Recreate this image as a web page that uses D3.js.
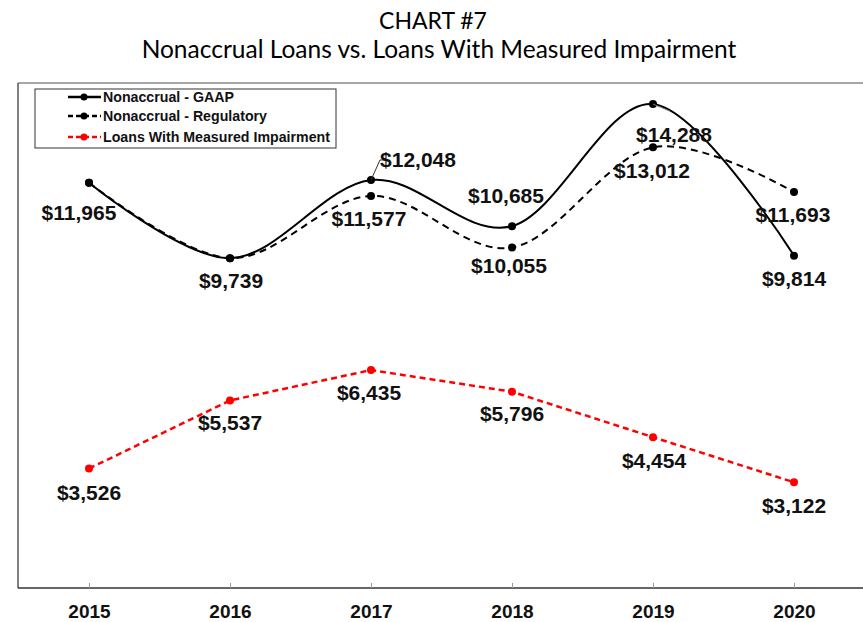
<!DOCTYPE html>
<html>
<head>
<meta charset="utf-8">
<script src="https://cdn.jsdelivr.net/npm/d3@7"></script>
<style>
  body { margin: 0; background: #fff; }
  svg { display: block; }
</style>
</head>
<body>
<svg id="chart"></svg>
<script>
// Chart #7 - Nonaccrual loans vs. loans with measured impairment ($ millions)

const years = [2015, 2016, 2017, 2018, 2019, 2020]
const gaap = [11965, 9739, 12048, 10685, 14288, 9814]
const regulatory = [11965, 9739, 11577, 10055, 13012, 11693]
const impairment = [3526, 5537, 6435, 5796, 4454, 3122]

const seriesNames = ["Nonaccrual - GAAP", "Nonaccrual - Regulatory", "Loans With Measured Impairment"]

// label offsets from each point (dx, dy of text centre), null = no label
const gaapLabelPos = [[-10, 30], [1, 22], [47, -21], [-6, -31], [21, 30], [0, 23]]
const regLabelPos = [null, null, [-2, 23], [-3, 18], [-1, 23], [-1, 22]]
const impLabelPos = [[0, 24], [0, 22], [-2, 22], [0, 22], [1, 23], [0, 23]]

const width = 863
const height = 622
const margin = { top: 80, right: 0, bottom: 34, left: 18 }

const svg = d3.select("#chart")
    .attr("width", width)
    .attr("height", height)

const x = d3.scalePoint()
    .domain(years)
    .range([89, 794])

const y = d3.scaleLinear()
    .domain([0, 15000])
    .range([height - margin.bottom, margin.top])

const fmt = d => "$" + d3.format(",")(d)

// titles
svg.append("text")
    .attr("x", 433).attr("y", 29)
    .attr("text-anchor", "middle")
    .style("font-family", "Lato, 'Open Sans', sans-serif")
    .style("font-size", "23px")
    .text("CHART #7")

svg.append("text")
    .attr("x", 439).attr("y", 58)
    .attr("text-anchor", "middle")
    .style("font-family", "Lato, 'Open Sans', sans-serif")
    .style("font-size", "24.5px")
    .text("Nonaccrual Loans vs. Loans With Measured Impairment")

// plot frame
const yBottom = y(0)
svg.append("line")
    .attr("x1", margin.left).attr("x2", width)
    .attr("y1", 83).attr("y2", 83)
    .attr("stroke", "#8a8a8a").attr("stroke-width", 1.5)
svg.append("line")
    .attr("x1", margin.left).attr("x2", margin.left)
    .attr("y1", 83).attr("y2", yBottom)
    .attr("stroke", "#555").attr("stroke-width", 1.5)

// x axis
const xAxis = svg.append("g")
    .attr("transform", `translate(0,${yBottom})`)
    .call(d3.axisBottom(x).tickSizeInner(-5).tickSizeOuter(0).tickPadding(17))
xAxis.select(".domain")
    .attr("d", `M${margin.left},0H${width}`)
    .attr("stroke", "#333").attr("stroke-width", 1.5)
xAxis.selectAll(".tick line").attr("stroke", "#999")
xAxis.selectAll("text")
    .attr("fill", "#111")
    .style("font-family", "'Liberation Sans', Arial, sans-serif")
    .style("font-weight", "bold")
    .style("font-size", "19px")

// lines
const smooth = d3.line()
    .x((d, i) => x(years[i]))
    .y(d => y(d))
    .curve(d3.curveCardinal.tension(0))

const straight = d3.line()
    .x((d, i) => x(years[i]))
    .y(d => y(d))

svg.append("path")
    .attr("d", smooth(regulatory))
    .attr("fill", "none")
    .attr("stroke", "#000").attr("stroke-width", 2)
    .attr("stroke-dasharray", "7,5")

svg.append("path")
    .attr("d", smooth(gaap))
    .attr("fill", "none")
    .attr("stroke", "#000").attr("stroke-width", 2)

svg.append("path")
    .attr("d", straight(impairment))
    .attr("fill", "none")
    .attr("stroke", "#f00").attr("stroke-width", 2.5)
    .attr("stroke-dasharray", "6,4")

// markers
function drawMarkers(values, color) {
    svg.append("g").selectAll("circle")
        .data(values)
        .join("circle")
        .attr("cx", (d, i) => x(years[i]))
        .attr("cy", d => y(d))
        .attr("r", 4)
        .attr("fill", color)
}
drawMarkers(regulatory, "#000")
drawMarkers(gaap, "#000")
drawMarkers(impairment, "#f00")

// leader lines
svg.append("path")
    .attr("d", `M${x(2017)},${y(gaap[2])}L${x(2017) + 9},${y(gaap[2]) - 20}H${x(2017) + 14}`)
    .attr("fill", "none").attr("stroke", "#333").attr("stroke-width", 1)
svg.append("line")
    .attr("x1", x(2019)).attr("y1", y(gaap[4]))
    .attr("x2", x(2019) + 17).attr("y2", y(gaap[4]) + 7)
    .attr("stroke", "#777").attr("stroke-width", 1)

// value labels
function drawLabels(values, pos) {
    svg.append("g").selectAll("text")
        .data(values.map((v, i) => ({ v, i, p: pos[i] })).filter(d => d.p))
        .join("text")
        .attr("x", d => x(years[d.i]) + d.p[0])
        .attr("y", d => y(d.v) + d.p[1])
        .attr("dy", "0.36em")
        .attr("text-anchor", "middle")
        .attr("fill", "#111")
        .style("font-family", "'Liberation Sans', Arial, sans-serif")
        .style("font-weight", "bold")
        .style("font-size", "21px")
        .text(d => fmt(d.v))
}
drawLabels(gaap, gaapLabelPos)
drawLabels(regulatory, regLabelPos)
drawLabels(impairment, impLabelPos)

// legend
const legend = svg.append("g").attr("transform", "translate(35,89)")
legend.append("rect")
    .attr("width", 301).attr("height", 59)
    .attr("fill", "#fff").attr("stroke", "#333").attr("stroke-width", 1)

const legendStyles = [
    { color: "#000", dash: null },
    { color: "#000", dash: "5,3" },
    { color: "#f00", dash: "5,3" }
]
const legendRows = [8, 27, 48]

seriesNames.forEach((name, i) => {
    const row = legend.append("g").attr("transform", `translate(0,${legendRows[i]})`)
    row.append("line")
        .attr("x1", 33).attr("x2", 66)
        .attr("stroke", legendStyles[i].color).attr("stroke-width", 2.5)
        .attr("stroke-dasharray", legendStyles[i].dash)
    row.append("circle")
        .attr("cx", 49).attr("r", 3.5)
        .attr("fill", legendStyles[i].color)
    row.append("text")
        .attr("x", 68).attr("dy", "0.35em")
        .attr("fill", "#111")
        .style("font-family", "'Liberation Sans', Arial, sans-serif")
        .style("font-weight", "bold")
        .style("font-size", "14.2px")
        .text(name)
})
</script>
</body>
</html>
